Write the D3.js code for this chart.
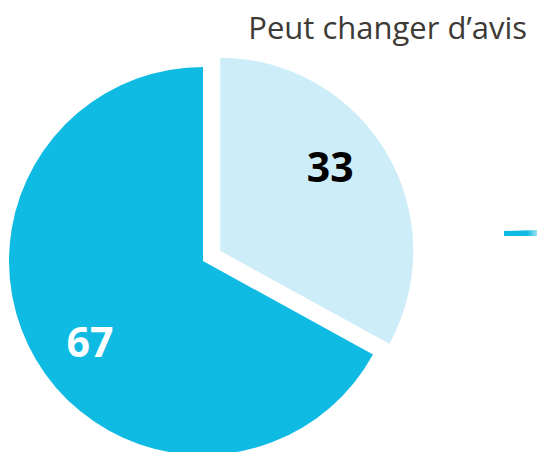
<!DOCTYPE html>
<html>
<head>
<meta charset="utf-8">
<script src="https://cdn.jsdelivr.net/npm/d3@7"></script>
<style>
  html, body { margin: 0; padding: 0; background: #fff; }
  svg { display: block; }
</style>
</head>
<body>
<svg id="chart" width="537" height="452"></svg>
<script>
const labels = ["Peut changer d’avis", "Sûr de son choix"];
const values = [33, 67];
const colors = ["#cdedf9", "#0fbbe3"];
const textColors = ["#000000", "#ffffff"];

const cx = 203, cy = 261, radius = 194;
const explode = 20;

const svg = d3.select("#chart");

const pie = d3.pie().sort(null).value((d) => d.value);
const arcs = pie(values.map((v, i) => ({ value: v, label: labels[i], i })));
const arc = d3.arc().innerRadius(0).outerRadius(radius);
const smallArc = d3.arc().innerRadius(0).outerRadius(radius - 1);

// label anchor (relative to each slice's own centre)
const labelPos = [[110, -69], [-113, 96]];

const g = svg.append("g").attr("transform", `translate(${cx},${cy})`);

const slice = g
  .selectAll("g.slice")
  .data(arcs)
  .join("g")
  .attr("class", "slice")
  .attr("transform", (d) => {
    if (d.data.i !== 0) return null;
    const a = (d.startAngle + d.endAngle) / 2;
    return `translate(${Math.sin(a) * explode},${-Math.cos(a) * explode})`;
  });

slice
  .append("path")
  .attr("d", (d) => (d.data.i === 0 ? smallArc(d) : arc(d)))
  .attr("fill", (d) => colors[d.data.i]);

slice
  .append("text")
  .attr("x", (d) => labelPos[d.data.i][0])
  .attr("y", (d) => labelPos[d.data.i][1])
  .attr("text-anchor", "middle")
  .attr("font-family", "'Open Sans', sans-serif")
  .attr("font-weight", 700)
  .attr("font-size", 41)
  .attr("fill", (d) => textColors[d.data.i])
  .text((d) => d.data.value);

// title
svg
  .append("text")
  .attr("x", 527)
  .attr("y", 39)
  .attr("text-anchor", "end")
  .attr("font-family", "'Open Sans', sans-serif")
  .attr("font-size", 31)
  .attr("fill", "#3e3a35")
  .text(labels[0]);

// small connector fragment on the right
const grad = svg.append("defs").append("linearGradient").attr("id", "fade");
grad.append("stop").attr("offset", "0%").attr("stop-color", "#0fbbe3");
grad.append("stop").attr("offset", "70%").attr("stop-color", "#0fbbe3");
grad.append("stop").attr("offset", "100%").attr("stop-color", "#9fe0f2");
svg
  .append("path")
  .attr("d", "M504,231 L537,230 L537,236 L504,236 Z")
  .attr("fill", "url(#fade)");
</script>
</body>
</html>
